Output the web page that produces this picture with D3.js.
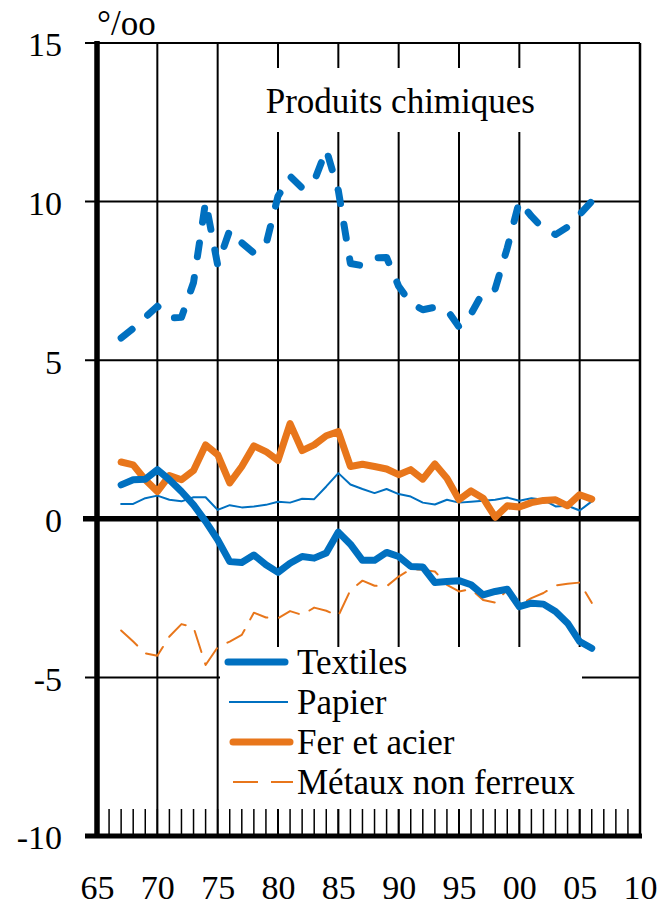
<!DOCTYPE html>
<html>
<head>
<meta charset="utf-8">
<script src="https://cdn.jsdelivr.net/npm/d3@7"></script>
<style>
  body { margin: 0; background: #fff; }
  svg text { font-family: "Liberation Serif", "Times New Roman", serif; fill: #000; }
</style>
</head>
<body>
<div id="chart"></div>
<script>
// years on the x axis (one point per year)
var years = [1967, 1968, 1969, 1970, 1971, 1972, 1973, 1974, 1975, 1976,
  1977, 1978, 1979, 1980, 1981, 1982, 1983, 1984, 1985, 1986,
  1987, 1988, 1989, 1990, 1991, 1992, 1993, 1994, 1995, 1996,
  1997, 1998, 1999, 2000, 2001, 2002, 2003, 2004, 2005, 2006];

// series, per mille
var chimie = [5.7, 6.0, 6.35, 6.7, 6.33, 6.35, 7.45, 10.0, 8.0, 9.1,
  8.7, 8.38, 8.64, 10.17, 10.8, 10.43, 10.64, 11.64, 10.35, 8.05,
  7.98, 8.23, 8.24, 7.33, 6.8, 6.59, 6.67, 6.59, 6.05, 6.46,
  7.15, 7.25, 8.54, 10.01, 9.54, 9.14, 8.96, 9.2, 9.59, 10.01];
var textiles = [1.07, 1.23, 1.25, 1.55, 1.23, 0.86, 0.44, -0.08, -0.66, -1.35,
  -1.38, -1.14, -1.45, -1.69, -1.4, -1.19, -1.24, -1.08, -0.42, -0.8,
  -1.31, -1.31, -1.06, -1.19, -1.5, -1.52, -2.01, -1.98, -1.95, -2.08,
  -2.4, -2.29, -2.22, -2.77, -2.66, -2.69, -2.92, -3.29, -3.87, -4.08];
var papier = [0.47, 0.47, 0.65, 0.73, 0.6, 0.55, 0.68, 0.68, 0.28, 0.43,
  0.36, 0.39, 0.44, 0.54, 0.51, 0.63, 0.62, 1.02, 1.44, 1.08,
  0.94, 0.81, 0.94, 0.78, 0.7, 0.51, 0.45, 0.6, 0.51, 0.54,
  0.57, 0.6, 0.67, 0.57, 0.65, 0.6, 0.39, 0.41, 0.26, 0.55];
var ferAcier = [1.79, 1.7, 1.23, 0.86, 1.36, 1.23, 1.52, 2.33, 2.02, 1.13,
  1.65, 2.3, 2.12, 1.84, 3.0, 2.15, 2.33, 2.62, 2.75, 1.65,
  1.72, 1.65, 1.57, 1.39, 1.55, 1.25, 1.73, 1.28, 0.6, 0.88,
  0.65, 0.05, 0.41, 0.37, 0.51, 0.58, 0.6, 0.41, 0.76, 0.62];
var metaux = [-3.52, -3.87, -4.24, -4.32, -3.71, -3.32, -3.42, -4.61, -4.05, -3.87,
  -3.66, -2.96, -3.11, -3.14, -2.91, -3.03, -2.8, -2.9, -3.06, -2.25,
  -1.95, -2.11, -2.13, -1.82, -1.59, -1.61, -1.66, -2.08, -2.29, -2.22,
  -2.56, -2.64, -2.24, -2.71, -2.5, -2.34, -2.1, -2.05, -2.01, -2.65];

// axis ticks
var xTicks = [1965, 1970, 1975, 1980, 1985, 1990, 1995, 2000, 2005, 2010];
var yTicks = [-10, -5, 0, 5, 10, 15];
var minorYears = d3.range(1966, 2010);

var legendLabels = ["Textiles", "Papier", "Fer et acier", "Métaux non ferreux"];
var chartLabel = "Produits chimiques";
var unitLabel = "°/oo";

var blue = "#0070C0";
var orange = "#E8761B";

// dimensions
var W = 661, H = 908;
var margin = { top: 43, right: 21, bottom: 72, left: 97 };
var width = W - margin.left - margin.right;
var height = H - margin.top - margin.bottom;

var x = d3.scaleLinear().domain([1965, 2010]).range([0, width]);
var y = d3.scaleLinear().domain([-10, 15]).range([height, 0]);

var svg = d3.select("#chart").append("svg")
  .attr("width", W)
  .attr("height", H)
  .append("g")
  .attr("transform", "translate(" + margin.left + "," + margin.top + ")");

// horizontal grid lines (with short outside ticks)
svg.append("g").selectAll("line")
  .data(yTicks.filter(function (d) { return d !== 0 && d !== -10; }))
  .enter().append("line")
  .attr("x1", -12).attr("x2", width)
  .attr("y1", function (d) { return y(d); })
  .attr("y2", function (d) { return y(d); })
  .attr("stroke", "#000").attr("stroke-width", 2);

// vertical grid lines
svg.append("g").selectAll("line")
  .data(xTicks.slice(1, -1))
  .enter().append("line")
  .attr("x1", function (d) { return x(d); })
  .attr("x2", function (d) { return x(d); })
  .attr("y1", 0).attr("y2", height)
  .attr("stroke", "#000").attr("stroke-width", 2);

// right border
svg.append("line")
  .attr("x1", x(2010)).attr("x2", x(2010))
  .attr("y1", 0).attr("y2", height)
  .attr("stroke", "#000").attr("stroke-width", 2.5);

// minor year ticks along the bottom
svg.append("g").selectAll("line")
  .data(minorYears)
  .enter().append("line")
  .attr("x1", function (d) { return x(d); })
  .attr("x2", function (d) { return x(d); })
  .attr("y1", height - 27).attr("y2", height)
  .attr("stroke", "#000").attr("stroke-width", 1.5);

// white boxes behind label and legend
svg.append("rect")
  .attr("x", 148).attr("y", 25)
  .attr("width", 310).attr("height", 64)
  .attr("fill", "#fff");
svg.append("rect")
  .attr("x", 123).attr("y", 604)
  .attr("width", 362).attr("height", 162)
  .attr("fill", "#fff");

// zero line and bottom line
svg.append("line")
  .attr("x1", -14).attr("x2", width)
  .attr("y1", y(0)).attr("y2", y(0))
  .attr("stroke", "#000").attr("stroke-width", 5.5);
svg.append("line")
  .attr("x1", -12).attr("x2", width + 2)
  .attr("y1", y(-10)).attr("y2", y(-10))
  .attr("stroke", "#000").attr("stroke-width", 5);

// left axis
svg.append("line")
  .attr("x1", 0).attr("x2", 0)
  .attr("y1", -2).attr("y2", height + 2)
  .attr("stroke", "#000").attr("stroke-width", 5.5);

// y tick labels
svg.append("g")
  .attr("transform", "translate(-12,0)")
  .call(d3.axisLeft(y).tickValues(yTicks).tickSize(0).tickPadding(23)
    .tickFormat(function (d) { return String(d); }))
  .call(function (g) { g.select(".domain").remove(); })
  .selectAll("text")
  .attr("dy", "0.38em")
  .style("font-size", "34px")
  .style("font-family", "Liberation Serif");

// x tick labels
svg.append("g")
  .attr("transform", "translate(0," + height + ")")
  .call(d3.axisBottom(x).tickValues(xTicks).tickSize(0).tickPadding(0)
    .tickFormat(function (d) { return String(d).slice(2); }))
  .call(function (g) { g.select(".domain").remove(); })
  .selectAll("text")
  .attr("y", 63).attr("dy", 0)
  .style("font-size", "34px")
  .style("font-family", "Liberation Serif");

// unit label and chart label
svg.append("text")
  .attr("x", 0).attr("y", -8)
  .style("font-size", "35px")
  .text(unitLabel);
svg.append("text")
  .attr("x", x(1985) + 62).attr("y", 70)
  .attr("text-anchor", "middle")
  .style("font-size", "35px")
  .text(chartLabel);

// series
var series = [
  { values: chimie, color: blue, width: 7, dash: "14,21" },
  { values: metaux, color: orange, width: 2, dash: "22,12" },
  { values: papier, color: blue, width: 2, dash: null },
  { values: ferAcier, color: orange, width: 7, dash: null },
  { values: textiles, color: blue, width: 7, dash: null }
];

var line = d3.line()
  .x(function (d, i) { return x(years[i]); })
  .y(function (d) { return y(d); });

svg.append("g").selectAll("path")
  .data(series)
  .enter().append("path")
  .attr("d", function (d) { return line(d.values); })
  .attr("fill", "none")
  .attr("stroke", function (d) { return d.color; })
  .attr("stroke-width", function (d) { return d.width; })
  .attr("stroke-linecap", "round")
  .attr("stroke-linejoin", "round")
  .attr("stroke-dasharray", function (d) { return d.dash; });

// legend
var legendItems = [
  { label: legendLabels[0], color: blue, width: 7, dash: null, x1: 131, x2: 188 },
  { label: legendLabels[1], color: blue, width: 2, dash: null, x1: 132, x2: 191 },
  { label: legendLabels[2], color: orange, width: 7, dash: null, x1: 136, x2: 193 },
  { label: legendLabels[3], color: orange, width: 2, dash: "25,13", x1: 136, x2: 196 }
];

var legend = svg.append("g");
legendItems.forEach(function (d, i) {
  var ly = 619 + i * 40;
  legend.append("line")
    .attr("x1", d.x1).attr("x2", d.x2)
    .attr("y1", ly).attr("y2", ly)
    .attr("stroke", d.color)
    .attr("stroke-width", d.width)
    .attr("stroke-linecap", d.width > 3 ? "round" : "butt")
    .attr("stroke-dasharray", d.dash);
  legend.append("text")
    .attr("x", 200).attr("y", ly + 12)
    .style("font-size", "35px")
    .text(d.label);
});
</script>
</body>
</html>
